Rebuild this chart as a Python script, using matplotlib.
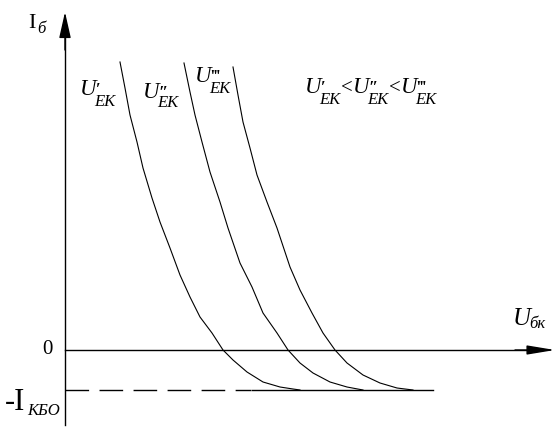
import matplotlib
matplotlib.use("Agg")
import matplotlib.pyplot as plt

plt.rcParams['font.family'] = ['Liberation Serif', 'DejaVu Serif']
plt.rcParams['lines.scale_dashes'] = False

# curves I_b(U_bk) for three U_EK values (arbitrary units)
c1_u = [55, 60, 65, 72, 78, 87, 95, 105, 115, 125, 135, 147, 158, 168, 182, 198, 215, 228, 235]
c1_i = [288, 262, 235, 208, 182, 152, 128, 102, 75, 53, 33, 17, 0, -10, -22, -32, -37, -39, -40]
c2_u = [119, 125, 130, 137, 145, 155, 163, 175, 187, 198, 212, 223, 235, 248, 265, 282, 298]
c2_i = [287, 258, 235, 208, 178, 148, 122, 87, 63, 37, 17, 0, -13, -23, -32, -37, -40]
c3_u = [168, 173, 178, 185, 192, 202, 212, 220, 225, 235, 247, 258, 270, 282, 298, 315, 332, 348]
c3_i = [283, 255, 228, 202, 175, 148, 122, 98, 83, 60, 37, 17, 0, -13, -25, -33, -38, -40]
i_kbo = -40
dash_end = 186
solid_end = 368

fig = plt.figure(figsize=(5.6, 4.3), dpi=100)
ax = fig.add_axes([0, 0, 1, 1])
ax.set_xlim(-65, 495)
ax.set_ylim(-80, 350)
ax.axis('off')


def P(px, py):
    # convert picture-pixel layout position to data position
    return px - 65, 350 - py


lw = 1.0
for u, i in [(c1_u, c1_i), (c2_u, c2_i), (c3_u, c3_i)]:
    ax.plot(u, i, color='black', lw=0.8)

# -I_KBO level
ax.plot([0, dash_end], [i_kbo, i_kbo], color='black', lw=lw, dashes=(17, 7.5))
ax.plot([dash_end + 0.5, solid_end], [i_kbo, i_kbo], color='black', lw=lw)

# axes with arrows
ax.plot([0, 0], [-75, 320], color='black', lw=lw)
ax.annotate('', xy=(0, 338), xytext=(0, 300),
            arrowprops=dict(arrowstyle='-|>,head_length=16,head_width=3.6',
                            mutation_scale=1, lw=lw, color='black',
                            shrinkA=0, shrinkB=0))
ax.plot([0, 470], [0, 0], color='black', lw=lw)
ax.annotate('', xy=(490, 0), xytext=(450, 0),
            arrowprops=dict(arrowstyle='-|>,head_length=17,head_width=2.8',
                            mutation_scale=1, lw=lw, color='black',
                            shrinkA=0, shrinkB=0))


def txt(px, py, s, size, italic=False, bold=False, **kw):
    x, y = P(px, py)
    ax.text(x, y, s, fontsize=size, style='italic' if italic else 'normal',
            weight='bold' if bold else 'normal', va='baseline', ha='left', **kw)


PRIMES = {1: '\u2032', 2: '\u2033', 3: '\u2034'}


def ulabel(px, py, n, sub_drop=11):
    txt(px, py, 'U', 16.5, italic=True)
    txt(px + 15.5, py - 1, PRIMES[n], 12, bold=True)
    txt(px + 14, py + sub_drop, 'EK', 12, italic=True)


# axis labels
txt(28, 28, 'I', 16)
txt(37, 33, 'б', 12, italic=True)
x0, y0 = P(47.5, 350)
ax.text(x0, y0, '0', fontsize=15, ha='center', va='center')
txt(5, 410, '-I', 22)
txt(27, 415, 'КБО', 12, italic=True)
txt(513, 325, 'U', 18, italic=True)
txt(529, 328, 'бк', 12, italic=True)

# curve labels
ulabel(80, 95, 1)
ulabel(143, 98, 2, sub_drop=9)
ulabel(195, 82, 3)

# relation
ulabel(305, 93, 1)
txt(341, 93, '<', 15)
ulabel(353, 93, 2, sub_drop=11)
txt(389, 93, '<', 15)
ulabel(401, 93, 3)

fig.savefig('out.png', dpi=100)
